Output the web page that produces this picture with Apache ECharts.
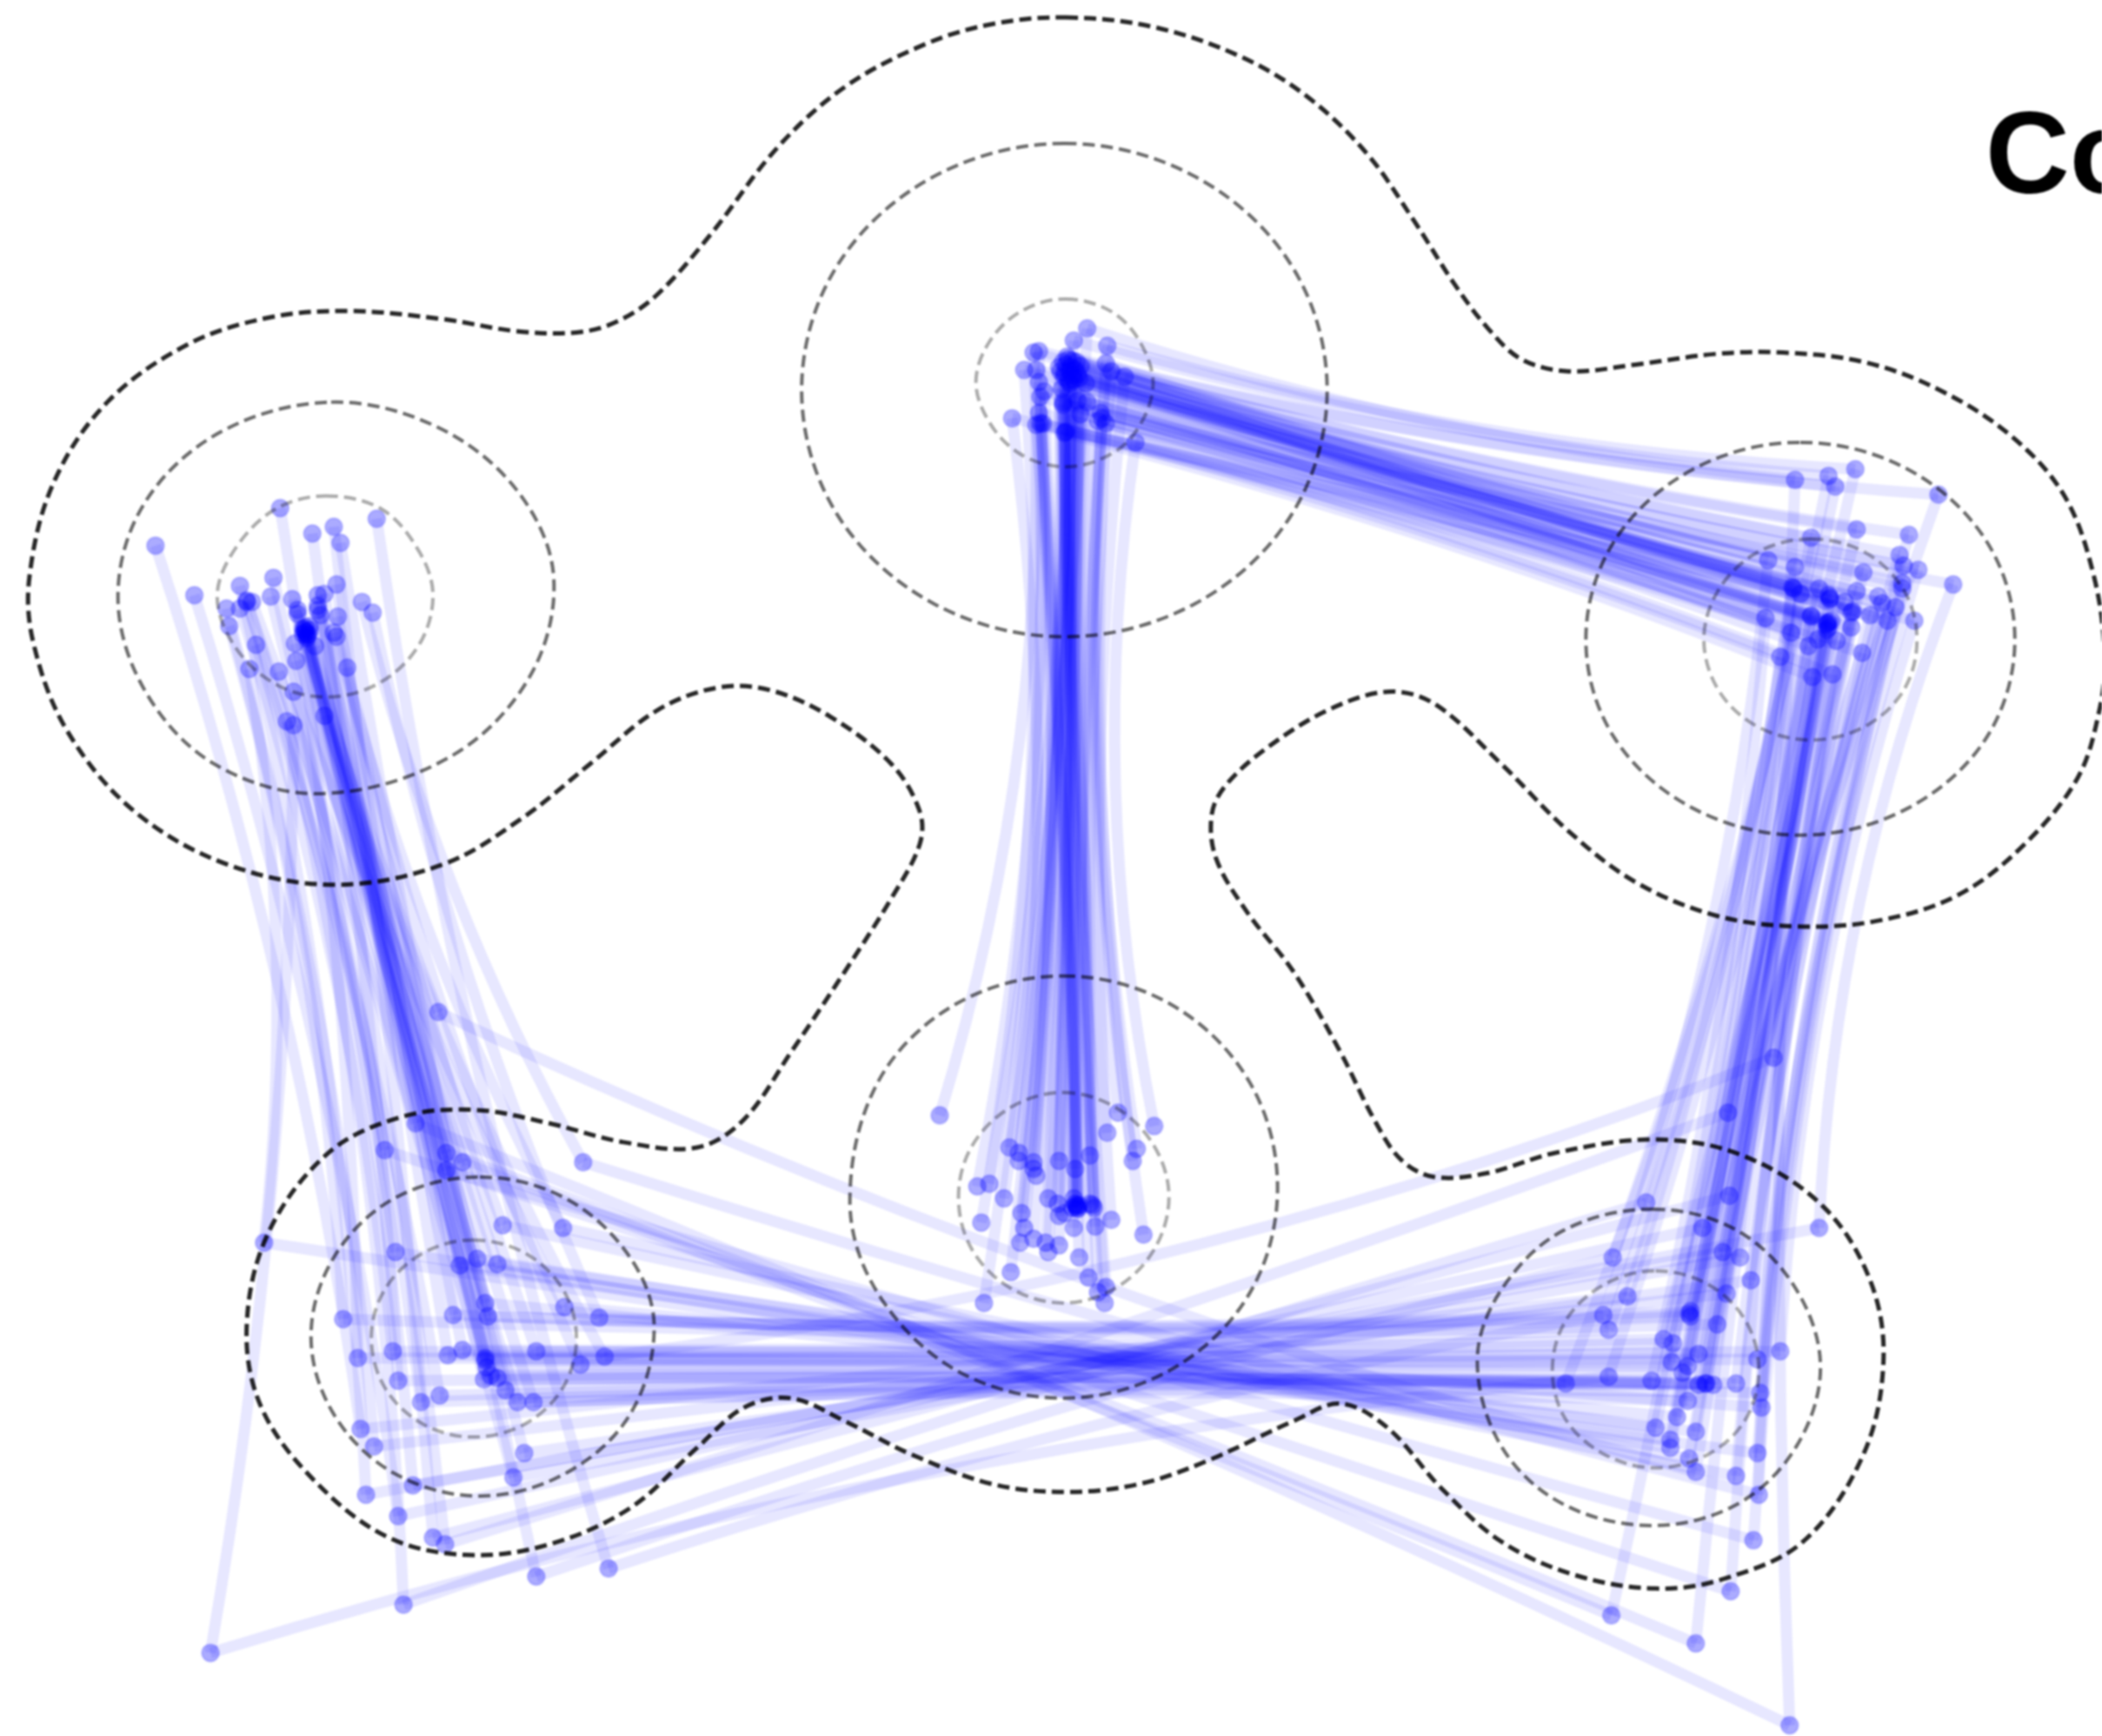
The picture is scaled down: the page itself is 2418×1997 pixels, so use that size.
<!DOCTYPE html>
<html>
<head>
<meta charset="utf-8">
<title>Co</title>
<script src="https://cdn.jsdelivr.net/npm/echarts@6/dist/echarts.min.js"></script>
<style>
html,body{margin:0;padding:0;background:#fff;overflow:hidden;}
#main{width:2418px;height:1997px;filter:blur(0.8px);}
</style>
</head>
<body>
<div id="main"></div>
<script>
// 点位按原图 1568x1295 的坐标读取
var clusterTopLeft = [[116,407],[145,444],[209,379],[233,398],[249,393],[254,405],[281,387],[204,431],[179,437],[202,445],[184,448],[188,449],[169,454],[179,454],[171,467],[218,447],[222,455],[237,444],[242,443],[251,436],[237,455],[239,459],[270,449],[278,457],[252,460],[222,458],[228,471],[229,476],[226,469],[231,467],[220,480],[235,482],[249,472],[251,475],[191,481],[221,493],[186,499],[208,501],[259,498],[219,516],[242,534],[214,538],[219,541],[228,472],[229,474],[227,470],[230,473],[226,473],[231,470],[228,468],[184,449],[237,452]];
var clusterBottomLeft = [[375,914],[420,916],[295,934],[343,944],[356,939],[371,943],[362,972],[364,982],[338,981],[421,975],[447,983],[256,984],[267,1013],[293,1008],[334,1011],[345,1007],[362,1013],[363,1020],[400,1008],[433,1018],[451,1012],[366,1026],[361,1029],[371,1028],[377,1037],[297,1030],[328,1041],[314,1046],[386,1046],[398,1046],[269,1066],[279,1079],[391,1084],[327,755],[310,838],[287,858],[333,860],[345,867],[333,873],[435,867],[197,927],[308,1108],[383,1102],[273,1115],[297,1131],[323,1147],[332,1152],[400,1176],[454,1170],[301,1197],[157,1233],[362,1015]];
var clusterBottomRight = [[1270,916],[1357,916],[1203,938],[1285,934],[1298,938],[1306,955],[1214,967],[1288,965],[1196,981],[1200,992],[1261,978],[1261,982],[1281,988],[1241,999],[1248,1002],[1267,1010],[1328,1008],[1311,1014],[1247,1016],[1259,1019],[1255,1024],[1200,1027],[1232,1030],[1168,1032],[1267,1033],[1273,1032],[1278,1033],[1295,1032],[1313,1039],[1314,1050],[1259,1045],[1251,1057],[1235,1065],[1265,1068],[1246,1074],[1246,1080],[1311,1084],[1260,1088],[1265,1098],[1295,1101],[1323,789],[1289,830],[1228,897],[1290,892],[1312,1115],[1308,1149],[1291,1187],[1202,1205],[1265,1226],[1335,1287],[1272,1032],[1260,980]];
var clusterTopRight = [[1384,350],[1364,355],[1369,363],[1339,358],[1446,369],[1385,395],[1424,399],[1351,401],[1417,414],[1319,418],[1339,423],[1420,422],[1431,425],[1457,436],[1390,427],[1419,435],[1419,439],[1337,438],[1343,443],[1357,439],[1364,444],[1365,447],[1385,441],[1376,449],[1401,445],[1404,450],[1414,453],[1382,456],[1395,459],[1408,463],[1428,463],[1317,461],[1351,459],[1363,465],[1366,463],[1381,468],[1363,470],[1336,472],[1356,477],[1349,482],[1370,478],[1389,487],[1328,490],[1352,505],[1367,503],[1363,466],[1364,464],[1365,446],[1351,460],[1338,439],[1381,457],[1364,468]];
var clusterTopCenter = [[811,245],[801,254],[826,258],[775,262],[771,263],[764,276],[773,276],[825,271],[829,277],[839,281],[775,285],[779,292],[776,296],[793,270],[800,269],[806,273],[791,277],[798,277],[804,279],[794,281],[801,283],[810,286],[792,290],[793,302],[804,299],[811,300],[806,309],[775,308],[773,317],[778,316],[755,312],[794,323],[821,308],[819,314],[825,316],[847,330],[795,272],[799,274],[797,268],[802,276],[794,278],[800,280],[797,284],[803,270],[796,266],[790,274],[805,282],[798,286],[793,300],[795,322],[776,316],[822,312]];
var clusterBottomCenter = [[701,832],[834,830],[861,840],[826,845],[848,857],[845,866],[753,856],[760,860],[760,866],[771,867],[771,872],[773,877],[790,866],[802,872],[813,862],[729,885],[738,883],[749,894],[782,894],[789,898],[801,894],[803,900],[803,899],[804,901],[815,899],[790,907],[794,905],[762,905],[732,912],[801,916],[817,915],[829,910],[764,916],[853,921],[761,927],[771,924],[780,927],[782,934],[790,929],[805,938],[754,949],[812,953],[825,960],[819,964],[824,972],[734,972],[805,899],[802,898],[804,902],[813,898],[800,901],[816,901]];

// 离群点的连线是照图配的 x1,y1,x2,y2,其余按排序对应
var outliersLeft = [[116,407,269,1066],[145,444,297,1131],[219,541,157,1233],[214,538,301,1197],[281,387,454,1170],[254,405,400,1176],[278,457,447,983],[270,449,435,867],[186,499,197,927],[171,467,256,984]];
var outliersBottom = [[327,755,1265,1098],[310,838,1335,1287],[345,867,1202,1205],[333,860,1265,1226],[287,858,1291,1187],[333,873,1308,1149],[435,867,1312,1115],[157,1233,1200,1027],[451,1012,1323,789],[301,1197,1228,897],[400,1176,1203,938],[454,1170,1196,981]];
var outliersRight = [[1335,1287,1339,358],[1202,1205,1328,490],[1265,1226,1352,505],[1357,916,1457,436]];

// 每束线的中轴,连线向它收拢
var axisLeft = [[228,470],[355,1005]];
var axisBottom = [[355,1015],[1265,1022]];
var axisRight = [[1265,1020],[1362,460]];
var axisTop = [[1362,460],[798,280]];
var axisCenter = [[798,280],[800,900]];

// 等高线
var contourOuter = [[795,13],[860,20],[925,42],[975,72],[1020,115],[1055,165],[1085,212],[1110,245],[1135,268],[1170,277],[1220,272],[1280,264],[1330,263],[1390,270],[1445,290],[1500,325],[1540,370],[1562,430],[1570,490],[1566,530],[1550,580],[1510,630],[1460,668],[1400,687],[1340,691],[1280,683],[1220,658],[1170,620],[1120,570],[1070,525],[1035,516],[990,530],[945,558],[915,585],[904,607],[907,640],[930,680],[965,725],[1000,785],[1025,835],[1045,865],[1070,878],[1110,875],[1160,860],[1235,850],[1300,862],[1360,900],[1395,955],[1405,1015],[1390,1085],[1345,1150],[1285,1178],[1235,1185],[1175,1175],[1120,1150],[1075,1110],[1035,1065],[1000,1047],[965,1060],[900,1090],[850,1107],[795,1113],[740,1107],[680,1085],[630,1060],[590,1043],[555,1050],[520,1080],[470,1125],[410,1152],[350,1160],[290,1147],[235,1105],[195,1050],[184,990],[200,920],[245,860],[300,833],[355,828],[410,838],[465,852],[520,856],[555,835],[590,785],[630,725],[665,670],[686,630],[686,605],[665,570],[620,535],[575,515],[535,513],[490,530],[440,570],[390,610],[330,645],[250,660],[170,645],[100,605],[50,545],[25,480],[22,430],[40,360],[80,300],[140,257],[200,237],[260,232],[330,238],[385,247],[430,248],[460,240],[490,220],[530,175],[580,110],[630,65],[690,33],[740,18]];
var contoursMiddle = [
    [[794,107],[892,132],[964,199],[990,291],[964,383],[892,450],[794,475],[696,450],[624,383],[598,291],[624,199],[696,132]],
    [[247,300],[325,318],[385,365],[413,430],[395,505],[335,565],[240,592],[160,570],[108,515],[88,445],[108,375],[165,322]],
    [[1343,330],[1423,350],[1482,404],[1503,477],[1482,550],[1423,603],[1343,623],[1263,603],[1204,550],[1183,477],[1204,404],[1263,350]],
    [[793,728],[873,749],[932,807],[953,886],[932,965],[873,1022],[793,1043],[713,1022],[655,965],[634,896],[655,807],[713,749]],
    [[358,878],[422,894],[470,938],[488,990],[470,1055],[422,1099],[358,1116],[294,1099],[249,1055],[232,997],[249,938],[294,894]],
    [[1233,902],[1296,918],[1340,962],[1358,1020],[1340,1079],[1296,1122],[1233,1138],[1166,1122],[1120,1079],[1102,1015],[1120,962],[1166,918]]
];
var contoursInner = [
    [[795,223],[830,233],[852,258],[860,290],[845,325],[820,343],[790,348],[760,338],[738,315],[728,285],[738,255],[762,232]],
    [[243,370],[285,380],[313,412],[323,445],[312,482],[282,510],[243,520],[205,510],[175,482],[162,445],[175,410],[205,380]],
    [[1351,402],[1391,412],[1420,440],[1430,477],[1420,515],[1391,542],[1351,552],[1311,542],[1282,515],[1271,477],[1282,440],[1311,412]],
    [[793,815],[832,826],[861,855],[872,893],[861,932],[832,961],[793,972],[754,961],[725,932],[715,893],[725,855],[754,826]],
    [[353,925],[392,935],[420,962],[430,998],[420,1035],[392,1062],[353,1072],[315,1062],[287,1035],[277,998],[287,962],[315,935]],
    [[1235,948],[1274,958],[1302,985],[1312,1022],[1302,1059],[1274,1085],[1235,1095],[1197,1085],[1168,1059],[1158,1022],[1168,985],[1197,958]]
];

function byX(p){ return p[0]; }
function byY(p){ return p[1]; }
// 密集处按 x、y 混排,线不会全挤在一起
function byXThenY(p){ return p[0] + p[1] * 0.9; }
function byYThenX(p){ return p[1] + p[0] * 0.35; }

// 底部那束线:中间一段平行走,上下两端交叉
function bottomFromKey(p) {
    var d = p[1] - 1015;
    if (d > 35) { return -1000 - d; }
    if (d < -35) { return 1000 - d; }
    return d;
}
function bottomToKey(p) {
    var d = p[1] - 1015;
    if (d > 35) { return 1000 + d; }
    if (d < -35) { return -1000 + d; }
    return d;
}

function takeOut(list, x, y) {
    for (var i = 0; i < list.length; i++) {
        if (list[i][0] === x && list[i][1] === y) {
            list.splice(i, 1);
            return;
        }
    }
}

// 两个簇之间的连线
function linkClusters(from, to, keyFrom, keyTo, fixed) {
    var restFrom = from.slice(), restTo = to.slice(), links = [];
    fixed.forEach(function (f) {
        takeOut(restFrom, f[0], f[1]);
        takeOut(restTo, f[2], f[3]);
        links.push([[f[0], f[1]], [f[2], f[3]]]);
    });
    restFrom.sort(function (a, b) { return keyFrom(a) - keyFrom(b); });
    restTo.sort(function (a, b) { return keyTo(a) - keyTo(b); });
    for (var i = 0; i < restFrom.length && i < restTo.length; i++) {
        links.push([restFrom[i], restTo[i]]);
    }
    return links;
}

// 算每条线的 curveness,让控制点往中轴方向偏
function bendToAxis(link, axis, pull, maxShift) {
    var a = link[0], b = link[1];
    var mx = (a[0] + b[0]) / 2, my = (a[1] + b[1]) / 2;
    var ax = axis[1][0] - axis[0][0], ay = axis[1][1] - axis[0][1];
    var t = ((mx - axis[0][0]) * ax + (my - axis[0][1]) * ay) / (ax * ax + ay * ay);
    var dx = (axis[0][0] + ax * t - mx) * pull, dy = (axis[0][1] + ay * t - my) * pull;
    var len = Math.sqrt(dx * dx + dy * dy);
    if (len > maxShift) {
        dx = dx * maxShift / len;
        dy = dy * maxShift / len;
    }
    var nx = b[1] - a[1], ny = a[0] - b[0];
    return (dx * nx + dy * ny) / (nx * nx + ny * ny);
}

function bundleSeries(links, axis, pull, maxShift) {
    return {
        type: 'lines',
        coordinateSystem: 'cartesian2d',
        silent: true,
        lineStyle: {color: 'rgb(0,0,255)', width: 13, opacity: 0.095},
        data: links.map(function (link) {
            return {coords: link, lineStyle: {curveness: bendToAxis(link, axis, pull, maxShift)}};
        })
    };
}

function pointSeries(points) {
    return {
        type: 'scatter',
        data: points,
        symbol: 'circle',
        symbolSize: 20,
        silent: true,
        itemStyle: {color: 'rgba(0,0,255,0.33)', borderColor: 'rgba(0,0,255,0.16)', borderWidth: 2, opacity: 1}
    };
}

function contourSeries(ring, color, width) {
    return {
        type: 'custom',
        coordinateSystem: 'cartesian2d',
        silent: true,
        z: 5,
        data: [ring[0]],
        renderItem: function (params, api) {
            return {
                type: 'polygon',
                shape: {
                    points: ring.map(function (p) { return api.coord(p); }),
                    smooth: 0.35
                },
                style: {fill: 'none', stroke: color, lineWidth: width, lineDash: [14, 7]}
            };
        }
    };
}

var series = [
    bundleSeries(linkClusters(clusterTopLeft, clusterBottomLeft, byXThenY, byX, outliersLeft), axisLeft, 0.55, 30),
    bundleSeries(linkClusters(clusterBottomLeft, clusterBottomRight, bottomFromKey, bottomToKey, outliersBottom), axisBottom, 0.5, 70),
    bundleSeries(linkClusters(clusterBottomRight, clusterTopRight, byX, byXThenY, outliersRight), axisRight, 0.55, 40),
    bundleSeries(linkClusters(clusterTopRight, clusterTopCenter, byYThenX, byY, []), axisTop, 0.45, 40),
    bundleSeries(linkClusters(clusterTopCenter, clusterBottomCenter, byXThenY, byX, []), axisCenter, 0.8, 70),
    pointSeries(clusterTopLeft),
    pointSeries(clusterBottomLeft),
    pointSeries(clusterBottomRight),
    pointSeries(clusterTopRight),
    pointSeries(clusterTopCenter),
    pointSeries(clusterBottomCenter),
    contourSeries(contourOuter, 'rgba(0,0,0,0.85)', 5)
];
contoursMiddle.forEach(function (ring) {
    series.push(contourSeries(ring, 'rgba(0,0,0,0.58)', 4));
});
contoursInner.forEach(function (ring) {
    series.push(contourSeries(ring, 'rgba(0,0,0,0.33)', 4));
});

var myChart = echarts.init(document.getElementById('main'));
myChart.setOption({
    animation: false,
    backgroundColor: '#fff',
    title: {
        text: 'Co',
        left: 2284,
        top: 118,
        padding: 0,
        textStyle: {fontFamily: 'Liberation Sans', fontWeight: 'bold', fontSize: 134, color: '#000'}
    },
    grid: {left: 0, right: 0, top: 0, bottom: 0},
    xAxis: {type: 'value', min: 0, max: 1568, show: false},
    yAxis: {type: 'value', min: 0, max: 1295, inverse: true, show: false},
    series: series
});
</script>
</body>
</html>
